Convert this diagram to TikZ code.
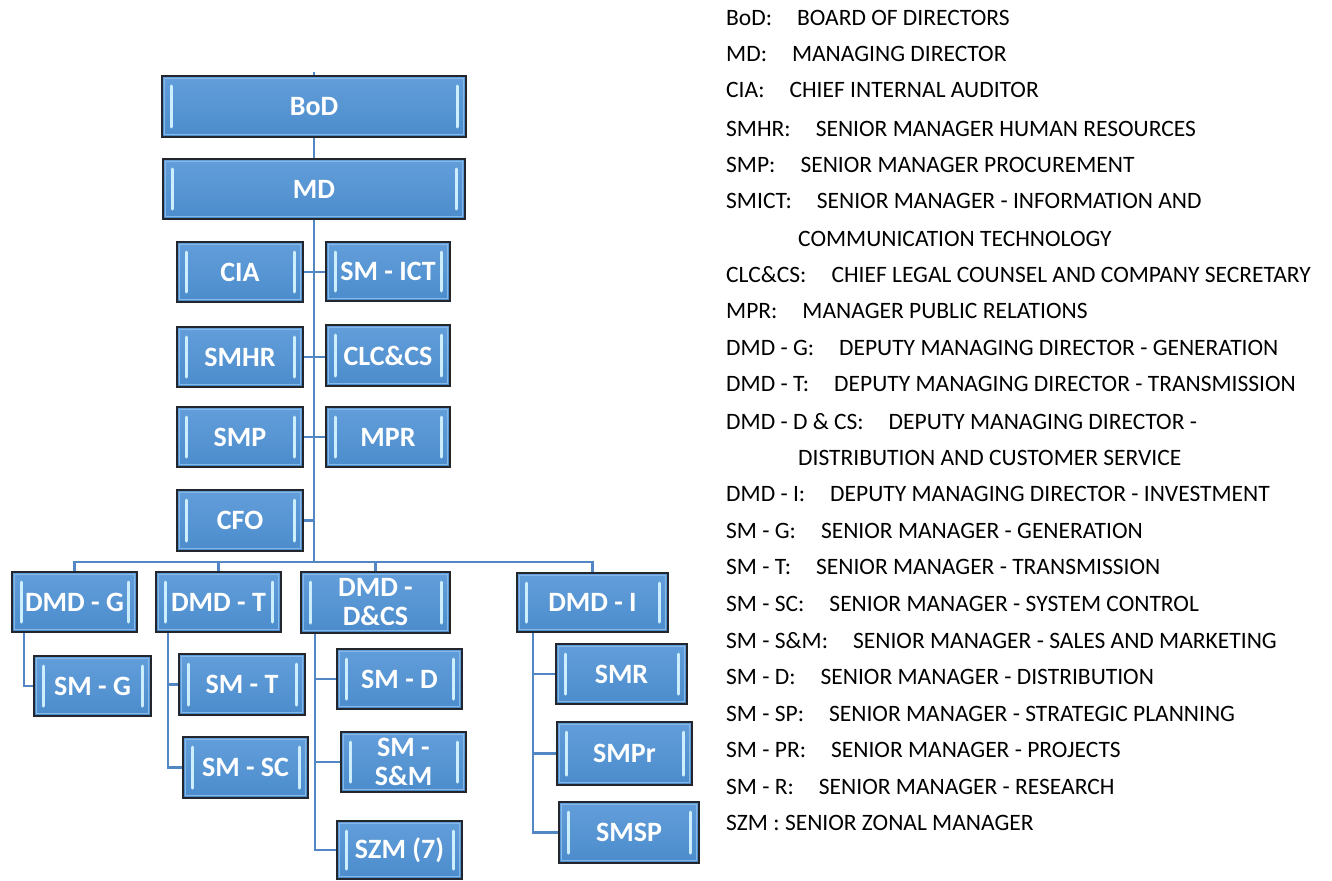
\documentclass[tikz,border=0pt]{standalone}
\usepackage{fontspec}
\setmainfont{Carlito}
\newfontfamily\boxfamily{Carlito}
\definecolor{boxtop}{RGB}{98,158,218}
\definecolor{boxbot}{RGB}{76,140,204}
\definecolor{bevelc}{RGB}{135,185,232}
\definecolor{barc}{RGB}{205,238,253}
\definecolor{edgec}{RGB}{35,38,45}
\definecolor{linkc}{RGB}{82,135,195}
\tikzset{
  orgbox/.style={draw=edgec, line width=2pt, top color=boxtop, bottom color=boxbot,
    text=white, font=\boxfamily\bfseries\fontsize{28}{29}\selectfont, align=center, inner sep=0pt,
    path picture={
      \draw[bevelc, line width=1.2pt] ([shift={(2.5pt,-2.5pt)}]path picture bounding box.north west) rectangle ([shift={(-2.5pt,2.5pt)}]path picture bounding box.south east);
      \draw[barc, line width=3pt, line cap=round] ([shift={(9pt,-10pt)}]path picture bounding box.north west) -- ([shift={(9pt,10pt)}]path picture bounding box.south west);
      \draw[barc, line width=3pt, line cap=round] ([shift={(-9pt,-10pt)}]path picture bounding box.north east) -- ([shift={(-9pt,10pt)}]path picture bounding box.south east);
    }},
  linkline/.style={draw=linkc, line width=2.5pt},
  legendtxt/.style={anchor=base west, inner sep=0pt, font=\fontsize{23.5}{28}\selectfont, text=black}
}
\begin{document}
\begin{tikzpicture}[x=1pt,y=-1pt]
\useasboundingbox (0,0) rectangle (1332,880);
\fill[white] (0,0) rectangle (1332,880);

\coordinate (top) at (314,72);
\coordinate (bus) at (314,562);

% boxes
\node[orgbox, minimum width=304pt, minimum height=61pt] (bod) at (314,106.5) {BoD};
\node[orgbox, minimum width=302pt, minimum height=60pt] (md) at (314,189) {MD};
\node[orgbox, minimum width=126pt, minimum height=60pt] (cia) at (240,272) {CIA};
\node[orgbox, minimum width=124pt, minimum height=59pt] (ict) at (388,271.5) {SM - ICT};
\node[orgbox, minimum width=126pt, minimum height=60pt] (smhr) at (240,357) {SMHR};
\node[orgbox, minimum width=124pt, minimum height=61pt] (clc) at (388,355.5) {CLC\&CS};
\node[orgbox, minimum width=126pt, minimum height=60pt] (smp) at (240,437) {SMP};
\node[orgbox, minimum width=124pt, minimum height=60pt] (mpr) at (388,437) {MPR};
\node[orgbox, minimum width=126pt, minimum height=61pt] (cfo) at (240,520.5) {CFO};

\node[orgbox, minimum width=125pt, minimum height=60pt] (dmdg) at (74.5,602) {DMD - G};
\node[orgbox, minimum width=125pt, minimum height=60pt] (dmdt) at (218.5,602) {DMD - T};
\node[orgbox, minimum width=149pt, minimum height=61pt] (dmdd) at (375.5,602.5) {DMD -\\D\&CS};
\node[orgbox, minimum width=151pt, minimum height=59pt] (dmdi) at (592.5,602.5) {DMD - I};

\node[orgbox, minimum width=117pt, minimum height=60pt] (smg) at (92.5,686) {SM - G};
\node[orgbox, minimum width=126pt, minimum height=61pt] (smt) at (242,684.5) {SM - T};
\node[orgbox, minimum width=125pt, minimum height=61pt] (smsc) at (245.5,767.5) {SM - SC};
\node[orgbox, minimum width=125pt, minimum height=60pt] (smd) at (399.5,679) {SM - D};
\node[orgbox, minimum width=125pt, minimum height=60pt] (smsm) at (403.5,762) {SM -\\S\&M};
\node[orgbox, minimum width=125pt, minimum height=58pt] (szm) at (399.5,850) {SZM (7)};
\node[orgbox, minimum width=131pt, minimum height=60pt] (smr) at (621.5,674) {SMR};
\node[orgbox, minimum width=135pt, minimum height=63pt] (smpr) at (624.5,753.5) {SMPr};
\node[orgbox, minimum width=140pt, minimum height=61pt] (smsp) at (629,832.5) {SMSP};

% connectors
\begin{scope}[linkline]
\draw (top) -- (bod.north);
\draw (bod.south) -- (md.north);
\draw (md.south) -- (bus);
\draw (cia.east) -- (cia.east -| ict.west);
\draw (smhr.east) -- (smhr.east -| clc.west);
\draw (smp.east) -- (smp.east -| mpr.west);
\draw (cfo.east) -- (cfo.east -| bus);
\draw (dmdg.north) |- (bus) -| (dmdi.north);
\draw (dmdt.north) -- (dmdt.north |- bus);
\draw (dmdd.north) -- (dmdd.north |- bus);
\draw ([xshift=13pt]dmdg.south west) |- (smg.west);
\draw ([xshift=13pt]dmdt.south west) |- (smt.west);
\draw ([xshift=13pt]dmdt.south west) |- (smsc.west);
\draw ([xshift=15pt]dmdd.south west) |- (smd.west);
\draw ([xshift=15pt]dmdd.south west) |- (smsm.west);
\draw ([xshift=15pt]dmdd.south west) |- (szm.west);
\draw ([xshift=17pt]dmdi.south west) |- (smr.west);
\draw ([xshift=17pt]dmdi.south west) |- (smpr.west);
\draw ([xshift=17pt]dmdi.south west) |- (smsp.west);
\end{scope}

% legend
\node[legendtxt] (l1) at (726,26) {BoD:\hspace{25pt}BOARD OF DIRECTORS};
\node[legendtxt] (l2) at (726,62) {MD:\hspace{25pt}MANAGING DIRECTOR};
\node[legendtxt] (l3) at (726,98) {CIA:\hspace{25pt}CHIEF INTERNAL AUDITOR};
\node[legendtxt] (l4) at (726,136) {SMHR:\hspace{25pt}SENIOR MANAGER HUMAN RESOURCES};
\node[legendtxt] (l5) at (726,172) {SMP:\hspace{25pt}SENIOR MANAGER PROCUREMENT};
\node[legendtxt] (l6) at (726,208) {SMICT:\hspace{25pt}SENIOR MANAGER - INFORMATION AND};
\node[legendtxt] (l7) at (798,246) {COMMUNICATION TECHNOLOGY};
\node[legendtxt] (l8) at (726,282) {CLC\&CS:\hspace{25pt}CHIEF LEGAL COUNSEL AND COMPANY SECRETARY};
\node[legendtxt] (l9) at (726,318) {MPR:\hspace{25pt}MANAGER PUBLIC RELATIONS};
\node[legendtxt] (l10) at (726,355) {DMD - G:\hspace{25pt}DEPUTY MANAGING DIRECTOR - GENERATION};
\node[legendtxt] (l11) at (726,391) {DMD - T:\hspace{25pt}DEPUTY MANAGING DIRECTOR - TRANSMISSION};
\node[legendtxt] (l12) at (726,429) {DMD - D \& CS:\hspace{25pt}DEPUTY MANAGING DIRECTOR -};
\node[legendtxt] (l13) at (798,465) {DISTRIBUTION AND CUSTOMER SERVICE};
\node[legendtxt] (l14) at (726,501) {DMD - I:\hspace{25pt}DEPUTY MANAGING DIRECTOR - INVESTMENT};
\node[legendtxt] (l15) at (726,538) {SM - G:\hspace{25pt}SENIOR MANAGER - GENERATION};
\node[legendtxt] (l16) at (726,574) {SM - T:\hspace{25pt}SENIOR MANAGER - TRANSMISSION};
\node[legendtxt] (l17) at (726,611) {SM - SC:\hspace{25pt}SENIOR MANAGER - SYSTEM CONTROL};
\node[legendtxt] (l18) at (726,648) {SM - S\&M:\hspace{25pt}SENIOR MANAGER - SALES AND MARKETING};
\node[legendtxt] (l19) at (726,684) {SM - D:\hspace{25pt}SENIOR MANAGER - DISTRIBUTION};
\node[legendtxt] (l20) at (726,721) {SM - SP:\hspace{25pt}SENIOR MANAGER - STRATEGIC PLANNING};
\node[legendtxt] (l21) at (726,757) {SM - PR:\hspace{25pt}SENIOR MANAGER - PROJECTS};
\node[legendtxt] (l22) at (726,794) {SM - R:\hspace{25pt}SENIOR MANAGER - RESEARCH};
\node[legendtxt] (l23) at (726,830) {SZM : SENIOR ZONAL MANAGER};
\end{tikzpicture}
\end{document}
